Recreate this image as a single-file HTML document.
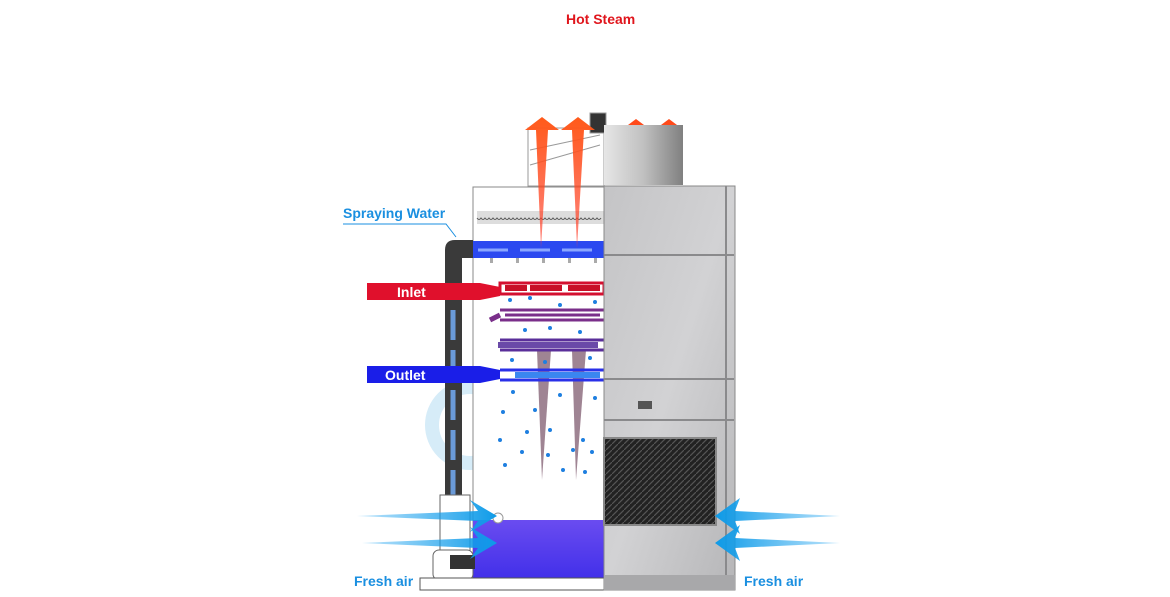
<!DOCTYPE html>
<html><head><meta charset="utf-8"><style>
html,body{margin:0;padding:0;background:#fff;width:1170px;height:597px;overflow:hidden}
svg{display:block}
text{font-family:"Liberation Sans",Arial,sans-serif;font-weight:bold}
</style></head><body>
<svg width="1170" height="597" viewBox="0 0 1170 597" xmlns="http://www.w3.org/2000/svg">
<defs>
<linearGradient id="steel" x1="0" x2="1" y1="0" y2="1">
<stop offset="0" stop-color="#c4c4c6"/><stop offset="0.5" stop-color="#d2d2d4"/><stop offset="1" stop-color="#b6b6b8"/></linearGradient>
<linearGradient id="fan" x1="0" x2="1"><stop offset="0" stop-color="#e6e6e6"/><stop offset="0.5" stop-color="#c0c0c0"/><stop offset="1" stop-color="#808080"/></linearGradient>
<linearGradient id="basin" x1="0" x2="0" y1="0" y2="1"><stop offset="0" stop-color="#6a4cf0"/><stop offset="1" stop-color="#3a2ae8"/></linearGradient>
<linearGradient id="air" x1="0" x2="1"><stop offset="0" stop-color="#1fa3f0" stop-opacity="0.3"/><stop offset="1" stop-color="#0e9be8"/></linearGradient>
<linearGradient id="airR" x1="1" x2="0"><stop offset="0" stop-color="#1fa3f0" stop-opacity="0.3"/><stop offset="1" stop-color="#0e9be8"/></linearGradient>
<linearGradient id="steam" x1="0" x2="0" y1="0" y2="1"><stop offset="0" stop-color="#ff5a1a"/><stop offset="1" stop-color="#ff3a2a" stop-opacity="0.6"/></linearGradient>
<pattern id="mesh" width="6" height="6" patternUnits="userSpaceOnUse"><rect width="6" height="6" fill="#222"/><path d="M0 6L6 0" stroke="#555" stroke-width="1.2"/></pattern>
</defs>

<text x="566" y="24" font-size="14" fill="#e0151c">Hot Steam</text>

<circle cx="470" cy="425" r="38" fill="none" stroke="#d6ecf8" stroke-width="14"/>

<g stroke="#999" fill="none" stroke-width="1">
<rect x="528" y="128" width="76" height="58"/><path d="M530 150L600 135M530 165L600 145"/>
<rect x="590" y="113" width="16" height="20" fill="#333"/>
</g>
<rect x="604" y="125" width="79" height="60" fill="url(#fan)"/>
<path d="M628 125l8-6 8 6zM661 125l8-6 8 6z" fill="#ff4a1a"/>

<rect x="473" y="187" width="131" height="403" fill="#fff" stroke="#888" stroke-width="1"/>
<rect x="477" y="211" width="127" height="13" fill="#ddd"/>
<path d="M477 218 q2 3 4 0 q2 3 4 0 q2 3 4 0 q2 3 4 0 q2 3 4 0 q2 3 4 0 q2 3 4 0 q2 3 4 0 q2 3 4 0 q2 3 4 0 q2 3 4 0 q2 3 4 0 q2 3 4 0 q2 3 4 0 q2 3 4 0 q2 3 4 0 q2 3 4 0 q2 3 4 0 q2 3 4 0 q2 3 4 0 q2 3 4 0 q2 3 4 0 q2 3 4 0 q2 3 4 0 q2 3 4 0 q2 3 4 0 q2 3 4 0 q2 3 4 0 q2 3 4 0 q2 3 4 0 q2 3 4 0" stroke="#555" fill="none"/>
<rect x="473" y="241" width="131" height="17" fill="#2b49f0"/>
<path d="M478 250h30M520 250h30M562 250h30" stroke="#8aa6ff" stroke-width="3"/>
<g fill="#aaa"><rect x="490" y="258" width="3" height="5"/><rect x="516" y="258" width="3" height="5"/><rect x="542" y="258" width="3" height="5"/><rect x="568" y="258" width="3" height="5"/><rect x="594" y="258" width="3" height="5"/></g>

<path d="M541 248 L536 130 L525 130 L542 117 L559 130 L548 130 Z" fill="url(#steam)"/>
<path d="M577 248 L572 130 L561 130 L578 117 L595 130 L584 130 Z" fill="url(#steam)"/>

<path d="M537 350 L551 350 L542 480 Z" fill="#8e6e80" opacity="0.85"/>
<path d="M572 350 L586 350 L576 480 Z" fill="#8e6e80" opacity="0.85"/>

<rect x="500" y="283" width="104" height="11" fill="none" stroke="#d41030" stroke-width="3"/>
<path d="M505 288h22M530 288h32M568 288h32" stroke="#c81028" stroke-width="6"/>
<path d="M505 315h95M500 310h104M500 320h104" stroke="#7a2f8a" stroke-width="3"/>
<path d="M500 315l-10 5" stroke="#7a2f8a" stroke-width="5"/>
<path d="M500 340h104M500 350h104" stroke="#5a2f9a" stroke-width="3"/>
<path d="M498 345h100" stroke="#6a4aa8" stroke-width="6"/>
<path d="M500 370h104M500 380h104" stroke="#2a30e8" stroke-width="3"/>
<path d="M515 375h85" stroke="#3a86f0" stroke-width="6"/>

<g fill="#1e7fe0">
<circle cx="510" cy="300" r="2"/><circle cx="530" cy="298" r="2"/><circle cx="560" cy="305" r="2"/><circle cx="595" cy="302" r="2"/>
<circle cx="525" cy="330" r="2"/><circle cx="550" cy="328" r="2"/><circle cx="580" cy="332" r="2"/>
<circle cx="512" cy="360" r="2"/><circle cx="545" cy="362" r="2"/><circle cx="590" cy="358" r="2"/>
<circle cx="513" cy="392" r="2"/><circle cx="535" cy="410" r="2"/><circle cx="560" cy="395" r="2"/><circle cx="595" cy="398" r="2"/>
<circle cx="503" cy="412" r="2"/><circle cx="527" cy="432" r="2"/><circle cx="550" cy="430" r="2"/><circle cx="583" cy="440" r="2"/>
<circle cx="500" cy="440" r="2"/><circle cx="522" cy="452" r="2"/><circle cx="548" cy="455" r="2"/><circle cx="573" cy="450" r="2"/><circle cx="592" cy="452" r="2"/>
<circle cx="505" cy="465" r="2"/><circle cx="563" cy="470" r="2"/><circle cx="585" cy="472" r="2"/>
</g>

<rect x="473" y="520" width="131" height="70" fill="url(#basin)"/>
<circle cx="498" cy="518" r="5" fill="#fff" stroke="#999"/>

<path d="M445 505 V250 q0 -10 10 -10 h18 v18 h-11 v247z" fill="#3a3a3a"/>
<path d="M453 500V300" stroke="#6a9ad8" stroke-width="5" stroke-dasharray="30 10"/>
<rect x="440" y="495" width="30" height="58" fill="#fff" stroke="#666"/>
<rect x="433" y="550" width="40" height="30" rx="6" fill="#fff" stroke="#666"/>
<rect x="450" y="555" width="25" height="14" fill="#333"/>
<rect x="420" y="578" width="315" height="12" fill="#fff" stroke="#555"/>

<rect x="604" y="186" width="131" height="404" fill="url(#steel)" stroke="#888"/>
<g stroke="#8a8a8c" stroke-width="2"><path d="M604 255h130M604 379h130M604 420h130M726 186v390"/></g>
<rect x="604" y="438" width="112" height="87" fill="url(#mesh)" stroke="#888" stroke-width="2"/>
<rect x="604" y="575" width="131" height="15" fill="#a8a8aa"/>
<rect x="638" y="401" width="14" height="8" fill="#555"/>

<path d="M367 283 H480 L500 287 V296 L480 300 H367 Z" fill="#e0102c"/>
<text x="397" y="297" font-size="14" fill="#fff">Inlet</text>
<path d="M367 366 H480 L500 370 V379 L480 383 H367 Z" fill="#1a1ee8"/>
<text x="385" y="380" font-size="14" fill="#fff">Outlet</text>

<text x="343" y="218" font-size="14" fill="#1a8fe0">Spraying Water</text>
<path d="M343 224 H446 L456 237" stroke="#1a8fe0" fill="none" stroke-width="1"/>

<path d="M357 516 L478 511 L470 500 L497 516 L470 532 L478 521 Z" fill="url(#air)"/>
<path d="M362 543 L478 538 L470 527 L497 543 L470 559 L478 548 Z" fill="url(#air)"/>
<path d="M840 516 L735 511 L740 498 L715 516 L740 534 L735 521 Z" fill="url(#airR)"/>
<path d="M840 543 L735 538 L740 525 L715 543 L740 561 L735 548 Z" fill="url(#airR)"/>

<text x="354" y="586" font-size="14" fill="#1a8fe0">Fresh air</text>
<text x="744" y="586" font-size="14" fill="#1a8fe0">Fresh air</text>
</svg>
</body></html>
